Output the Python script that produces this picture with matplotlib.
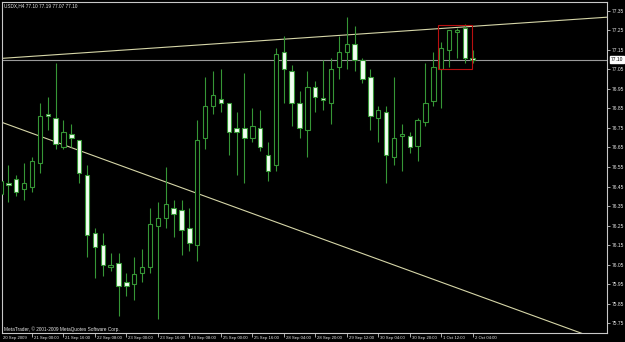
import matplotlib
matplotlib.use('Agg')
import matplotlib.pyplot as plt
import matplotlib.transforms as mtransforms
from matplotlib.patches import Rectangle
from matplotlib import font_manager
import numpy as np

# ---------------- data ----------------
header_text = "USDX,H4 77.10 77.19 77.07 77.10"
footer_text = "MetaTrader, \u00a9 2001-2009 MetaQuotes Software Corp."
first_date_label = "20 Sep 2009"
time_labels = ["21 Sep 00:00", "21 Sep 16:00", "22 Sep 08:00", "23 Sep 00:00",
               "23 Sep 16:00", "24 Sep 08:00", "25 Sep 00:00", "25 Sep 16:00",
               "28 Sep 04:00", "28 Sep 20:00", "29 Sep 12:00", "30 Sep 04:00",
               "30 Sep 20:00", "1 Oct 12:00", "2 Oct 04:00"]
first_labelled_bar = 4
bars_per_label = 4

opens = [76.41, 76.47, 76.49, 76.44, 76.45, 76.57, 76.82, 76.80, 76.65, 76.72,
         76.69, 76.51, 76.21, 76.15, 76.04, 76.06, 75.96, 75.95, 76.01, 76.04,
         76.25, 76.29, 76.34, 76.33, 76.24, 76.15, 76.70, 76.86, 76.90, 76.88,
         76.75, 76.75, 76.70, 76.75, 76.61, 76.56, 77.14, 77.04, 76.88, 76.74,
         76.96, 76.905, 76.88, 77.06, 77.14, 77.18, 77.10, 77.01, 76.80, 76.83,
         76.60, 76.71, 76.71, 76.66, 76.78, 76.89, 77.05, 77.15, 77.24, 77.26,
         77.11]
highs = [76.50, 76.56, 76.51, 76.57, 76.60, 76.88, 76.91, 77.08, 76.79, 76.77,
         76.69, 76.56, 76.24, 76.21, 76.11, 76.11, 76.01, 76.09, 76.13, 76.34,
         76.37, 76.55, 76.38, 76.38, 76.34, 76.79, 77.01, 77.04, 77.05, 76.88,
         76.83, 77.03, 76.85, 76.84, 76.68, 77.16, 77.22, 77.07, 76.94, 77.04,
         76.99, 77.10, 77.11, 77.22, 77.32, 77.27, 77.11, 77.05, 76.86, 76.86,
         77.01, 76.77, 76.73, 76.80, 77.08, 77.14, 77.19, 77.25, 77.26, 77.28,
         77.15]
lows = [76.39, 76.37, 76.40, 76.38, 76.42, 76.52, 76.74, 76.64, 76.64, 76.65,
        76.47, 76.09, 75.98, 75.99, 76.02, 75.79, 75.89, 75.87, 75.96, 76.01,
        75.77, 76.24, 76.19, 76.10, 76.12, 76.07, 76.64, 76.82, 76.83, 76.61,
        76.51, 76.47, 76.68, 76.63, 76.48, 76.53, 76.88, 76.76, 76.70, 76.60,
        76.83, 76.84, 76.77, 77.00, 77.05, 77.04, 76.98, 76.74, 76.68, 76.47,
        76.56, 76.53, 76.62, 76.58, 76.76, 76.86, 76.85, 77.06, 77.11, 77.08,
        77.08]
closes = [76.48, 76.46, 76.42, 76.47, 76.58, 76.81, 76.81, 76.67, 76.73, 76.70,
          76.52, 76.20, 76.14, 76.05, 76.05, 75.94, 75.94, 76.00, 76.04, 76.26,
          76.29, 76.36, 76.31, 76.23, 76.16, 76.69, 76.86, 76.92, 76.88, 76.73,
          76.73, 76.70, 76.76, 76.65, 76.53, 77.13, 77.05, 76.88, 76.75, 76.96,
          76.91, 76.895, 77.05, 77.14, 77.18, 77.10, 77.00, 76.81, 76.84, 76.61,
          76.70, 76.72, 76.65, 76.79, 76.88, 77.06, 77.16, 77.25, 77.25, 77.11,
          77.10]

price_ticks = [75.75, 75.85, 75.95, 76.05, 76.15, 76.25, 76.35, 76.45, 76.55,
               76.65, 76.75, 76.85, 76.95, 77.05, 77.15, 77.25, 77.35]
current_price = 77.10
current_price_label = "77.10"

upper_trend_bars = [0.15, 76.8]
upper_trend_prices = [77.106, 77.316]
lower_trend_bars = [0.15, 73.85]
lower_trend_prices = [76.779, 75.699]
box_bars = [55.59, 59.91]
box_prices = [77.052, 77.277]

# ---------------- style ----------------
names = {f.name for f in font_manager.fontManager.ttflist}
family = 'Liberation Sans' if 'Liberation Sans' in names else 'DejaVu Sans'
plt.rcParams['font.family'] = [family, 'DejaVu Sans']

GREEN = '#369636'
WHITE_BODY = '#f2fff2'
TREND = '#d6d6a8'
BIDLINE = '#9a9a9a'
FRAME = '#c8c8c8'
TXT = '#e8e8e8'
FS_Y = 3.5
FS_X = 3.1
FS_T = 3.4

W, H = 625, 342
fig = plt.figure(figsize=(W / 100, H / 100), dpi=100, facecolor='black')
left_px, right_px, top_px, bottom_px = 2, 607, 2, 333.3
ax = fig.add_axes([left_px / W, 1 - bottom_px / H,
                   (right_px - left_px) / W, (bottom_px - top_px) / H])
ax.set_facecolor('black')
ax.set_xlim(0.19, 77.07)
ax.set_ylim(75.699, 77.3945)
for s in ax.spines.values():
    s.set_color(FRAME)
    s.set_linewidth(0.8)

x = np.arange(len(opens))
o = np.array(opens); c = np.array(closes)
ax.vlines(x, lows, highs, color=GREEN, lw=0.8, zorder=2)
bottoms = np.minimum(o, c)
heights = np.maximum(np.abs(c - o), 0.004)
faces = ['black' if cc >= oo else WHITE_BODY for oo, cc in zip(o, c)]
ax.bar(x, heights, bottom=bottoms, width=0.56, color=faces,
       edgecolor=GREEN, linewidth=0.8, zorder=3)

ax.axhline(current_price, color=BIDLINE, lw=0.8, zorder=1)
ax.axline((upper_trend_bars[0], upper_trend_prices[0]),
          (upper_trend_bars[1], upper_trend_prices[1]), color=TREND, lw=0.8, zorder=1.5)
ax.axline((lower_trend_bars[0], lower_trend_prices[0]),
          (lower_trend_bars[1], lower_trend_prices[1]), color=TREND, lw=0.8, zorder=1.5)
ax.add_patch(Rectangle((box_bars[0], box_prices[0]), box_bars[1] - box_bars[0],
                       box_prices[1] - box_prices[0], fill=False,
                       edgecolor='#b81010', lw=0.8, zorder=4))

# y axis (right)
ax.yaxis.tick_right()
ax.set_yticks(price_ticks)
ax.set_yticklabels([f"{p:.2f}" for p in price_ticks])
ax.tick_params(axis='y', colors=FRAME, labelcolor=TXT, length=2.5, width=0.6,
               pad=1, labelsize=FS_Y, direction='out')

# x axis
tick_bars = [first_labelled_bar + i * bars_per_label for i in range(len(time_labels))]
ax.set_xticks(tick_bars)
ax.set_xticklabels([''] * len(tick_bars))
ax.tick_params(axis='x', colors=FRAME, length=3, width=0.6, direction='out')
xtrans = mtransforms.blended_transform_factory(ax.transData, ax.transAxes)
for b, lab in zip(tick_bars, time_labels):
    ax.text(b, 0, lab, transform=mtransforms.offset_copy(xtrans, fig=fig, x=2, y=-4.8, units='dots'),
            ha='left', va='center', fontsize=FS_X, color=TXT, clip_on=False)
ax.text(0, 0, first_date_label,
        transform=mtransforms.offset_copy(ax.transAxes, fig=fig, x=1, y=-4.8, units='dots'),
        ha='left', va='center', fontsize=FS_X, color=TXT, clip_on=False)

# current price label
ytrans = mtransforms.blended_transform_factory(ax.transAxes, ax.transData)
ax.text(1, current_price, current_price_label,
        transform=mtransforms.offset_copy(ytrans, fig=fig, x=4, units='dots'),
        ha='left', va='center', fontsize=FS_Y, color='black', clip_on=False, zorder=6,
        bbox=dict(boxstyle='square,pad=0.2', fc='white', ec='white'))

# header / footer
ax.text(0, 1, header_text,
        transform=mtransforms.offset_copy(ax.transAxes, fig=fig, x=2, y=-3.5, units='dots'),
        ha='left', va='center', fontsize=FS_T, color=TXT)
ax.text(0, 0, footer_text,
        transform=mtransforms.offset_copy(ax.transAxes, fig=fig, x=2, y=4.5, units='dots'),
        ha='left', va='center', fontsize=FS_T, color=TXT)

fig.savefig('out.png', dpi=100, facecolor='black')
